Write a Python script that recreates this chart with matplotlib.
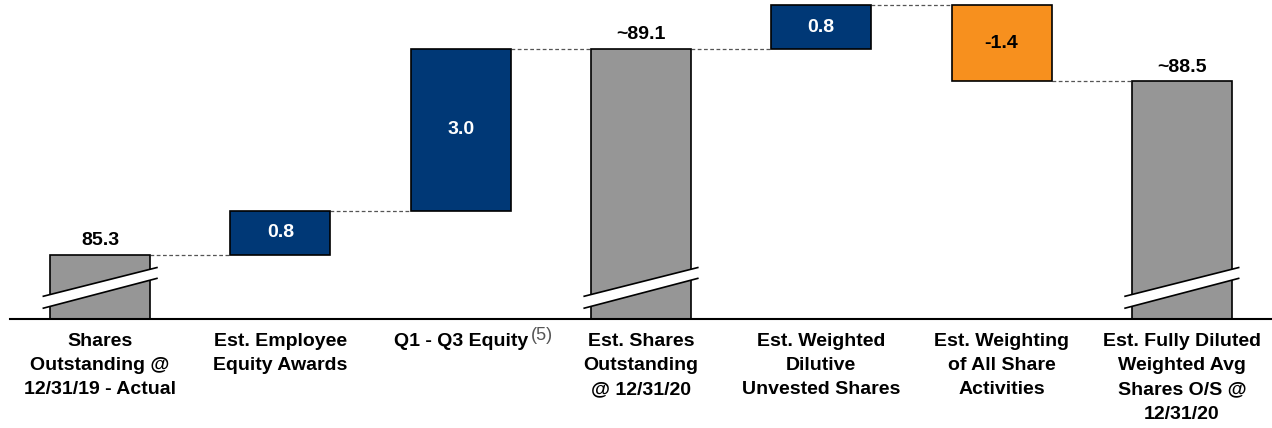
import matplotlib.pyplot as plt
from matplotlib.patches import Polygon

plt.rcParams['font.family'] = ['Liberation Sans', 'DejaVu Sans']

# Waterfall data
categories = [
    'Shares\nOutstanding @\n12/31/19 - Actual',
    'Est. Employee\nEquity Awards',
    'Q1 - Q3 Equity',
    'Est. Shares\nOutstanding\n@ 12/31/20',
    'Est. Weighted\nDilutive\nUnvested Shares',
    'Est. Weighting\nof All Share\nActivities',
    'Est. Fully Diluted\nWeighted Avg\nShares O/S @\n12/31/20',
]
values = [85.3, 0.8, 3.0, 89.1, 0.8, -1.4, 88.5]
kinds = ['total', 'delta', 'delta', 'total', 'delta', 'delta', 'total']
labels = ['85.3', '0.8', '3.0', '~89.1', '0.8', '-1.4', '~88.5']
footnote = '(5)'

axis_floor = 84.11
gray = '#969696'
blue = '#003876'
orange = '#F7901E'

fig = plt.figure(figsize=(12.72, 4.28), dpi=100)
ax = fig.add_axes([10 / 1272, 109 / 428, 1 - 10 / 1272, 319 / 428])

bar_w = 0.555
running = 0.0
tops = []
for i, (v, k) in enumerate(zip(values, kinds)):
    if k == 'total':
        bottom, height = axis_floor, v - axis_floor
        running = v
        color, txt_color = gray, 'black'
    else:
        if v >= 0:
            bottom, height = running, v
            color, txt_color = blue, 'white'
        else:
            bottom, height = running + v, -v
            color, txt_color = orange, 'black'
        running += v
    ax.bar(i, height, bottom=bottom, width=bar_w, color=color,
           edgecolor='black', linewidth=1.2, zorder=2)
    tops.append(running)
    if k == 'total':
        ax.text(i, v + 0.1, labels[i], ha='center', va='bottom',
                fontsize=14, fontweight='bold', color=txt_color)
    else:
        ax.text(i, bottom + height / 2, labels[i], ha='center', va='center',
                fontsize=14, fontweight='bold', color=txt_color)

# dashed connectors between bars
for i in range(len(values) - 1):
    ax.plot([i + bar_w / 2, i + 1 - bar_w / 2], [tops[i], tops[i]],
            color='#555555', linestyle=(0, (3, 2)), linewidth=0.9, zorder=1)

# axis-break marks on the total bars
for i, k in enumerate(kinds):
    if k != 'total':
        continue
    x0, x1 = i - 0.315, i + 0.315
    y_lo0, y_hi0 = axis_floor + 0.20, axis_floor + 0.42
    y_lo1, y_hi1 = axis_floor + 0.75, axis_floor + 0.95
    band = Polygon([[x0, y_lo0], [x1, y_lo1], [x1, y_hi1], [x0, y_hi0]],
                   closed=True, facecolor='white', edgecolor='none', zorder=3)
    ax.add_patch(band)
    ax.plot([x0, x1], [y_lo0, y_lo1], color='black', linewidth=1.2, zorder=4)
    ax.plot([x0, x1], [y_hi0, y_hi1], color='black', linewidth=1.2, zorder=4)

ax.set_xlim(-0.5, 6.5)
ax.set_ylim(axis_floor, 90.0)
for s in ['top', 'right', 'left']:
    ax.spines[s].set_visible(False)
ax.spines['bottom'].set_linewidth(1.5)
ax.set_yticks([])
ax.set_xticks(range(len(categories)))
ax.set_xticklabels(categories, fontsize=14, fontweight='bold',
                   linespacing=1.56)
ax.tick_params(axis='x', length=0, pad=10)

# superscript footnote for the Q1 - Q3 Equity label
fig.canvas.draw()
q_label = ax.get_xticklabels()[2]
ax.annotate(footnote, xy=(1, 1), xycoords=q_label, xytext=(2, 4),
            textcoords='offset points', ha='left', va='top',
            fontsize=13, color='#555555')

fig.savefig('out.png', dpi=100)
